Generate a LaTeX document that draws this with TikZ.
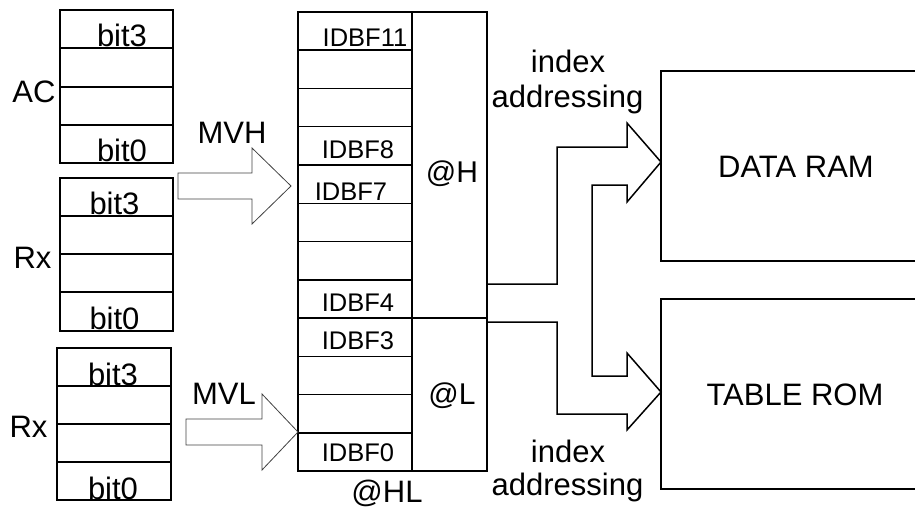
\documentclass[tikz,border=0pt]{standalone}
\usepackage{fontspec}
\setmainfont{Liberation Sans}
\begin{document}
\begin{tikzpicture}[x=1pt,y=-1pt,line join=miter,
  reg/.style={line width=1.5pt},
  conn/.style={line width=1.5pt},
  thinarrow/.style={line width=0.8pt,draw=black!75},
  big/.style={font=\fontsize{31}{36}\selectfont,inner sep=0pt,anchor=base},
  mid/.style={font=\fontsize{30}{36}\selectfont,inner sep=0pt,anchor=base},
  small/.style={font=\fontsize{25.5}{30}\selectfont,inner sep=0pt,anchor=base},
  membox/.style={draw,line width=1.5pt,rectangle,inner sep=0pt}]
\useasboundingbox (0,0) rectangle (915,508);

% AC register
\draw[reg] (60,10) rectangle (173,163);
\foreach \yy in {48,87,125} \draw[reg] (60,\yy) -- (173,\yy);
\node[big] (ac3) at (122,47) {bit3};
\node[big] (ac0) at (122,161) {bit0};
\node[big] (aclab) at (34,103) {AC};

% Rx register 1
\draw[reg] (60,178) rectangle (173,331);
\foreach \yy in {216,254,292} \draw[reg] (60,\yy) -- (173,\yy);
\node[big] (rxa3) at (114.5,214) {bit3};
\node[big] (rxa0) at (114.5,329) {bit0};
\node[big] (rxalab) at (32.5,268) {Rx};

% Rx register 2
\draw[reg] (57,348) rectangle (171,500);
\foreach \yy in {386,424,462} \draw[reg] (57,\yy) -- (171,\yy);
\node[big] (rxb3) at (113,385) {bit3};
\node[big] (rxb0) at (113,499) {bit0};
\node[big] (rxblab) at (28.5,437) {Rx};

% IDBF column
\draw[reg] (298,12) rectangle (487,471);
\draw[reg] (412,12) -- (412,471);
\foreach \k in {1,...,11} \draw[reg] (298,{12+38.25*\k}) -- (412,{12+38.25*\k});
\draw[reg] (412,318) -- (487,318);
\coordinate (hout) at (487,284);
\coordinate (lout) at (487,322);
\node[small] (f11) at (365,47) {IDBF11};
\node[small] (f8) at (358,158) {IDBF8};
\node[small] (f7) at (351,200) {IDBF7};
\node[small] (f4) at (358,311) {IDBF4};
\node[small] (f3) at (358,349) {IDBF3};
\node[small] (f0) at (358,461) {IDBF0};
\node[mid] (atH) at (452,182) {@H};
\node[mid] (atL) at (452,404) {@L};
\node[big] (atHL) at (387,502) {@HL};

% MVH / MVL arrows
\draw[thinarrow] (178,173) -- (252,173) -- (252,148) -- (291,186) -- (252,224) -- (252,199) -- (178,199) -- cycle;
\node[big] (mvh) at (232,143) {MVH};
\draw[thinarrow] (186,419) -- (262,419) -- (262,394) -- (298,432) -- (262,470) -- (262,445) -- (186,445) -- cycle;
\node[big] (mvl) at (224,404) {MVL};

% Memory boxes
\draw[membox] (661,71) rectangle (930,261);
\draw[membox] (661,299) rectangle (930,489);
\node[big] (ram) at (796,177) {DATA RAM};
\node[big] (rom) at (795,405) {TABLE ROM};

% index addressing connectors
\draw[conn] (hout) -- (557,284) -- (557,147) -- (627,147) -- (627,123) -- (661,162)
  -- (627,202) -- (627,185) -- (592,185) -- (592,376) -- (627,376) -- (627,353)
  -- (661,392) -- (627,430) -- (627,414) -- (557,414) -- (557,322) -- (lout);
\node[big] (ia1) at (568,73) {index};
\node[big] (ia2) at (567.5,108) {addressing};
\node[big] (ib1) at (568,462) {index};
\node[big] (ib2) at (567.5,495) {addressing};
\end{tikzpicture}
\end{document}
